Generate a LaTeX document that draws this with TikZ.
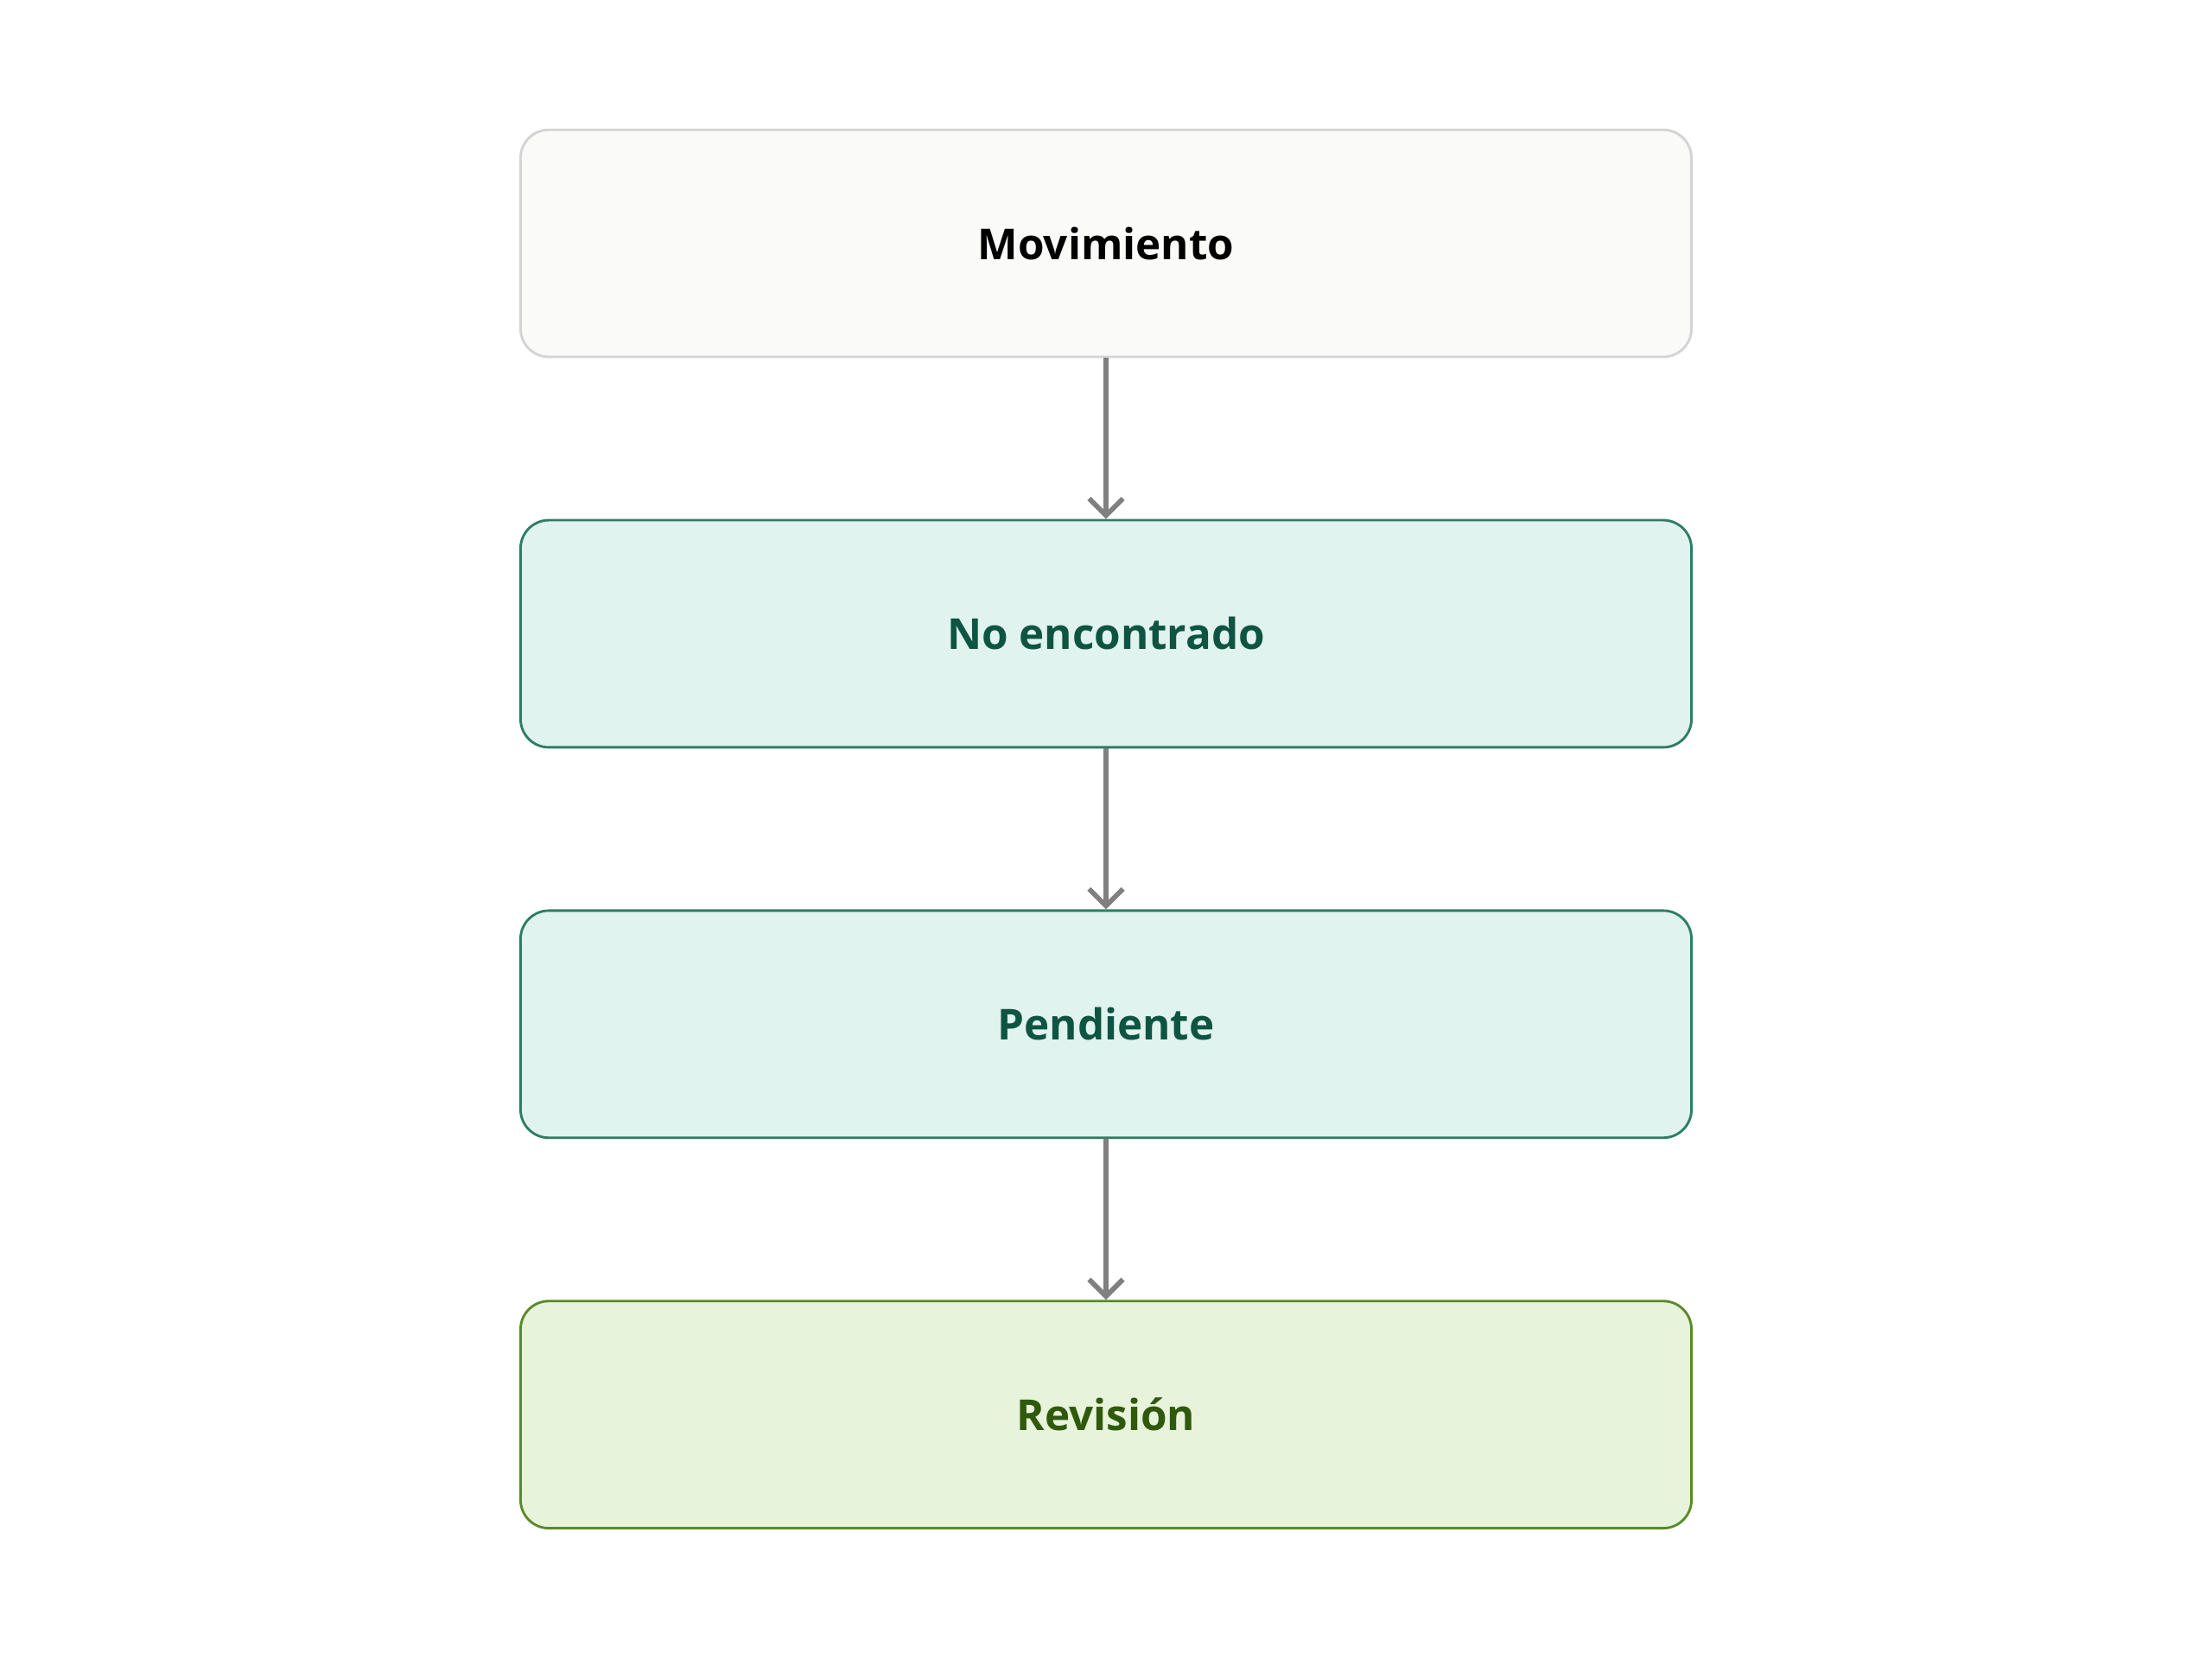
\documentclass[tikz,border=0pt]{standalone}
\usepackage{fontspec}
\setmainfont{Open Sans}
\usetikzlibrary{arrows.meta, positioning}
\definecolor{plainfill}{HTML}{FAFAF9}
\definecolor{plainline}{HTML}{D4D4D4}
\definecolor{tealfill}{HTML}{E1F3EE}
\definecolor{tealline}{HTML}{2E7D65}
\definecolor{tealtext}{HTML}{0E5443}
\definecolor{leaffill}{HTML}{E8F3DC}
\definecolor{leafline}{HTML}{5A8A2A}
\definecolor{leaftext}{HTML}{2F5A0C}
\definecolor{linkgray}{HTML}{808080}

\begin{document}
\begin{tikzpicture}
\tikzstyle{stage} = [rectangle, draw, rounded corners=0.2cm, minimum width=8.3cm, minimum height=1.61cm, line width=0.5pt, font=\fontsize{8.6}{11}\selectfont\bfseries]
\tikzstyle{arrow} = [line width=1pt, linkgray, -{Straight Barb[length=0.12cm, width=0.24cm]}]

\useasboundingbox (0,0) rectangle (15.68,-11.76);

\node (mov) [stage, fill=plainfill, draw=plainline] at (7.84,-1.725) {Movimiento};
\node (noenc) [stage, fill=tealfill, draw=tealline, text=tealtext, below=1.14cm of mov] {No encontrado};
\node (pend) [stage, fill=tealfill, draw=tealline, text=tealtext, below=1.14cm of noenc] {Pendiente};
\node (rev) [stage, fill=leaffill, draw=leafline, text=leaftext, below=1.14cm of pend] {Revisión};

\draw [arrow] (mov) -- (noenc);
\draw [arrow] (noenc) -- (pend);
\draw [arrow] (pend) -- (rev);

\end{tikzpicture}
\end{document}
